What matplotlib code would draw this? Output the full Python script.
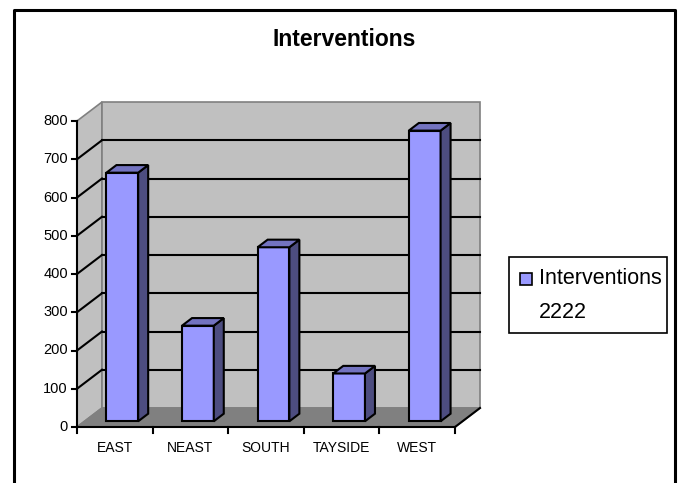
import matplotlib
matplotlib.use("Agg")
import matplotlib.pyplot as plt
from matplotlib.patches import Polygon, Rectangle
from matplotlib.lines import Line2D

plt.rcParams['font.family'] = ['Liberation Sans', 'DejaVu Sans']

categories = ["EAST", "NEAST", "SOUTH", "TAYSIDE", "WEST"]
values = [650, 250, 455, 125, 760]
yticks = [0, 100, 200, 300, 400, 500, 600, 700, 800]
title = "Interventions"
series_label = "Interventions\n2222"

W, H = 681, 483
fig = plt.figure(figsize=(W / 100, H / 100), dpi=100)

# front plane: x 0..5 -> px 77..455, y 0..800 -> px 427..121
ymax = 800
n = len(categories)
DX = 25 / 75.6          # depth offset in category units
DY = 19 / 0.3825        # depth offset in value units
ax = fig.add_axes([77 / W, (H - 427) / H, (480 - 77) / W, (427 - 102) / H])
ax.set_xlim(0, n + DX)
ax.set_ylim(0, ymax + DY)
ax.axis("off")

wall = "#C0C0C0"
floor = "#808080"
edge = "#808080"

# side wall, back wall, floor
ax.add_patch(Polygon([(0, 0), (DX, DY), (DX, ymax + DY), (0, ymax)],
                     facecolor=wall, edgecolor=edge, lw=1.2, clip_on=False))
ax.add_patch(Rectangle((DX, DY), n, ymax, facecolor=wall, edgecolor=edge,
                       lw=1.2, clip_on=False))
ax.add_patch(Polygon([(0, 0), (n, 0), (n + DX, DY), (DX, DY)],
                     facecolor=floor, edgecolor=edge, lw=1.2, clip_on=False))

# gridlines
for v in yticks[1:-1]:
    ax.plot([DX, n + DX], [v + DY, v + DY], color="black", lw=1.5, clip_on=False)
    ax.plot([0, DX], [v, v + DY], color="black", lw=1.5, clip_on=False)

# front axes lines and ticks
ax.plot([0, 0], [0, ymax], color="black", lw=1.5, clip_on=False)
ax.plot([0, n], [0, 0], color="black", lw=1.5, clip_on=False)
ax.plot([n, n + DX], [0, DY], color="black", lw=1.5, clip_on=False)
tx = 5 / 75.6
for v in yticks:
    ax.plot([-tx, 0], [v, v], color="black", lw=1.5, clip_on=False)
    ax.text(-tx - 4 / 75.6, v, str(v), ha="right", va="center", fontsize=10.5)
ty = 6 / 0.3825
for i in range(n + 1):
    ax.plot([i, i], [0, -ty], color="black", lw=1.5, clip_on=False)
for i, c in enumerate(categories):
    ax.text(i + 0.5, -21 / 0.3825, c, ha="center", va="center", fontsize=10)

# 3D bars
bw = 0.42
f0, f1 = 0.3, 0.7
front = "#9999FF"
top_c = "#7373C0"
side_c = "#4D4D80"
xs = [i + 0.5 + f0 * DX for i in range(n)]
ax.bar(xs, values, width=bw, bottom=f0 * DY, color=front, edgecolor="black",
       lw=1.5, zorder=3, clip_on=False)
ddx = (f1 - f0) * DX
ddy = (f1 - f0) * DY
for x, v in zip(xs, values):
    l, r = x - bw / 2, x + bw / 2
    b, t = f0 * DY, f0 * DY + v
    ax.add_patch(Polygon([(r, b), (r + ddx, b + ddy), (r + ddx, t + ddy), (r, t)],
                         facecolor=side_c, edgecolor="black", lw=1.5,
                         zorder=3, clip_on=False))
    ax.add_patch(Polygon([(l, t), (r, t), (r + ddx, t + ddy), (l + ddx, t + ddy)],
                         facecolor=top_c, edgecolor="black", lw=1.5,
                         zorder=3, clip_on=False))

# title
fig.text(344 / W, 1 - 40 / H, title, ha="center", va="center",
         fontsize=16.5, fontweight="bold")

# legend (drawn by hand to match the Excel box)
fig.add_artist(Rectangle((509 / W, 1 - 333 / H), (667 - 509) / W, (333 - 257) / H,
                         transform=fig.transFigure, facecolor="white",
                         edgecolor="black", lw=1.2))
fig.add_artist(Rectangle((520 / W, 1 - 285 / H), 12 / W, 12 / H,
                         transform=fig.transFigure, facecolor=front,
                         edgecolor="black", lw=1.2))
line1, line2 = series_label.split("\n")
fig.text(539 / W, 1 - 279 / H, line1, ha="left", va="center", fontsize=15.5)
fig.text(539 / W, 1 - 312 / H, line2, ha="left", va="center", fontsize=15.5)

# outer chart border (bottom edge falls outside the picture)
fig.add_artist(Line2D([14 / W, 14 / W, 675 / W, 675 / W],
                      [0, 1 - 10 / H, 1 - 10 / H, 0],
                      transform=fig.transFigure, color="black", lw=2.2))

fig.savefig("out.png", dpi=100)
